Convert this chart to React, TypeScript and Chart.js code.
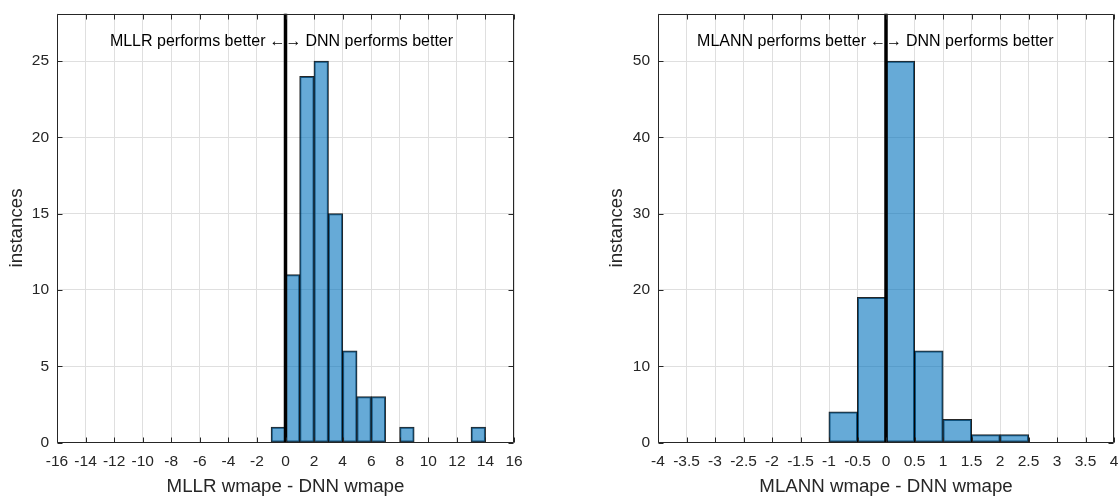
import { useEffect, useRef } from "react";
import { Chart, registerables } from "chart.js";

Chart.register(...registerables);

// Left panel: MLLR wmape - DNN wmape, unit-width bins (bin centres and counts)
const mllrBinCenters = [-0.5, 0.5, 1.5, 2.5, 3.5, 4.5, 5.5, 6.5, 8.5, 13.5];
const mllrCounts = [1, 11, 24, 25, 15, 6, 3, 3, 1, 1];
const mllrXRange = [-16, 16];
const mllrXStep = 2;
const mllrYMax = 28.125;
const mllrYStep = 5;
const mllrNoteY = 26.3;

// Right panel: MLANN wmape - DNN wmape, half-unit bins
const mlannBinCenters = [-0.75, -0.25, 0.25, 0.75, 1.25, 1.75, 2.25];
const mlannCounts = [4, 19, 50, 12, 3, 1, 1];
const mlannXRange = [-4, 4];
const mlannXStep = 0.5;
const mlannYMax = 56.25;
const mlannYStep = 10;
const mlannNoteY = 52.6;

const FONT = '"Liberation Sans", Arial, Helvetica, sans-serif';
const AXIS_COLOR = "#262626";
const GRID_COLOR = "#dfdfdf";

// Full axes box with short inward ticks on all four sides
const axesBoxPlugin = {
  id: "axesBox",
  afterDatasetsDraw(chart: any) {
    const { ctx, chartArea: a, scales } = chart;
    const L = Math.round(a.left) + 0.5;
    const R = Math.round(a.right) - 0.5;
    const T = Math.round(a.top) + 0.5;
    const B = Math.round(a.bottom) - 0.5;
    const tick = 5;
    ctx.save();
    ctx.strokeStyle = AXIS_COLOR;
    ctx.lineWidth = 1;
    ctx.beginPath();
    ctx.rect(L, T, R - L, B - T);
    for (const t of scales.x.ticks) {
      const px = Math.round(scales.x.getPixelForValue(t.value)) + 0.5;
      ctx.moveTo(px, B);
      ctx.lineTo(px, B - tick);
      ctx.moveTo(px, T);
      ctx.lineTo(px, T + tick);
    }
    for (const t of scales.y.ticks) {
      const py = Math.round(scales.y.getPixelForValue(t.value)) + 0.5;
      ctx.moveTo(L, py);
      ctx.lineTo(L + tick, py);
      ctx.moveTo(R, py);
      ctx.lineTo(R - tick, py);
    }
    ctx.stroke();
    ctx.restore();
  },
};

// "A performs better <-> B performs better" note, arrows centred on x = 0
const directionNotePlugin = {
  id: "directionNote",
  afterDatasetsDraw(chart: any, _args: any, opts: any) {
    const { ctx, scales } = chart;
    const x0 = scales.x.getPixelForValue(0);
    const y = scales.y.getPixelForValue(opts.y);
    ctx.save();
    ctx.font = `16px ${FONT}`;
    ctx.fillStyle = "#000";
    ctx.textBaseline = "middle";
    const arrows = "\u2190\u2192";
    const aw = ctx.measureText(arrows).width;
    const gap = 4;
    ctx.textAlign = "center";
    ctx.fillText(arrows, x0, y);
    ctx.textAlign = "right";
    ctx.fillText(opts.left, x0 - aw / 2 - gap, y);
    ctx.textAlign = "left";
    ctx.fillText(opts.right, x0 + aw / 2 + gap, y);
    ctx.restore();
  },
};

type PanelProps = {
  centers: number[];
  counts: number[];
  xRange: number[];
  xStep: number;
  yMax: number;
  yStep: number;
  noteY: number;
  xTitle: string;
  leftNote: string;
  rightNote: string;
  left: number;
  width: number;
  padLeft: number;
  padRight: number;
  yAxisWidth: number;
};

function HistogramPanel(p: PanelProps) {
  const ref = useRef<HTMLCanvasElement>(null);

  useEffect(() => {
    if (!ref.current) return;
    const tickFont = { family: FONT, size: 15.5 };
    const titleFont = { family: FONT, size: 18.7, lineHeight: 1 };
    const chart = new Chart(ref.current, {
      type: "bar",
      data: {
        datasets: [
          {
            type: "line",
            data: [
              { x: 0, y: 0 },
              { x: 0, y: p.yMax },
            ],
            borderColor: "#000",
            borderWidth: 3.5,
            pointRadius: 0,
            order: 0,
          } as any,
          {
            type: "bar",
            data: p.centers.map((c, i) => ({ x: c, y: p.counts[i] })),
            backgroundColor: "rgba(0,114,189,0.6)",
            borderColor: "rgba(0,0,0,0.85)",
            borderWidth: 1,
            borderSkipped: false,
            inflateAmount: 0.5,
            barPercentage: 1,
            categoryPercentage: 1,
            grouped: false,
            order: 1,
          } as any,
        ],
      },
      options: {
        animation: false,
        responsive: false,
        maintainAspectRatio: false,
        events: [],
        layout: {
          padding: { top: 13.5, right: p.padRight, bottom: 0, left: p.padLeft },
        },
        plugins: {
          legend: { display: false },
          tooltip: { enabled: false },
          directionNote: {
            y: p.noteY,
            left: p.leftNote,
            right: p.rightNote,
          },
        } as any,
        scales: {
          x: {
            type: "linear",
            offset: false,
            min: p.xRange[0],
            max: p.xRange[1],
            afterFit: (s: any) => {
              s.height = 53.5;
              s.paddingLeft = 0;
              s.paddingRight = 0;
            },
            ticks: {
              stepSize: p.xStep,
              autoSkip: false,
              maxRotation: 0,
              includeBounds: false,
              padding: 10,
              color: AXIS_COLOR,
              font: tickFont,
              callback: (v: any) => String(v),
            },
            grid: { color: GRID_COLOR, drawTicks: false, lineWidth: 1, offset: false },
            border: { display: false },
            title: {
              display: true,
              text: p.xTitle,
              color: AXIS_COLOR,
              font: titleFont,
              padding: 0,
            },
          },
          y: {
            type: "linear",
            min: 0,
            max: p.yMax,
            afterFit: (s: any) => {
              s.width = p.yAxisWidth;
              s.paddingTop = 0;
              s.paddingBottom = 0;
            },
            ticks: {
              stepSize: p.yStep,
              includeBounds: false,
              padding: 8,
              color: AXIS_COLOR,
              font: tickFont,
              callback: (v: any) => String(v),
            },
            grid: { color: GRID_COLOR, drawTicks: false, lineWidth: 1 },
            border: { display: false },
            title: {
              display: true,
              text: "instances",
              color: AXIS_COLOR,
              font: titleFont,
              padding: { top: 8, bottom: 0 },
            },
          },
        },
      } as any,
      plugins: [axesBoxPlugin, directionNotePlugin],
    });
    return () => chart.destroy();
  }, []);

  return (
    <canvas
      ref={ref}
      width={p.width}
      height={496}
      style={{
        position: "absolute",
        left: p.left,
        top: 0,
        width: p.width,
        height: 496,
        display: "block",
      }}
    />
  );
}

export default function App() {
  return (
    <div
      style={{
        position: "fixed",
        left: 0,
        top: 0,
        width: 1119,
        height: 496,
        background: "#fff",
        overflow: "hidden",
      }}
    >
      <HistogramPanel
        centers={mllrBinCenters}
        counts={mllrCounts}
        xRange={mllrXRange}
        xStep={mllrXStep}
        yMax={mllrYMax}
        yStep={mllrYStep}
        noteY={mllrNoteY}
        xTitle="MLLR wmape - DNN wmape"
        leftNote="MLLR performs better"
        rightNote="DNN performs better"
        left={0}
        width={560}
        padLeft={0}
        padRight={46}
        yAxisWidth={57}
      />
      <HistogramPanel
        centers={mlannBinCenters}
        counts={mlannCounts}
        xRange={mlannXRange}
        xStep={mlannXStep}
        yMax={mlannYMax}
        yStep={mlannYStep}
        noteY={mlannNoteY}
        xTitle="MLANN wmape - DNN wmape"
        leftNote="MLANN performs better"
        rightNote="DNN performs better"
        left={560}
        width={559}
        padLeft={40}
        padRight={5}
        yAxisWidth={58}
      />
    </div>
  );
}
